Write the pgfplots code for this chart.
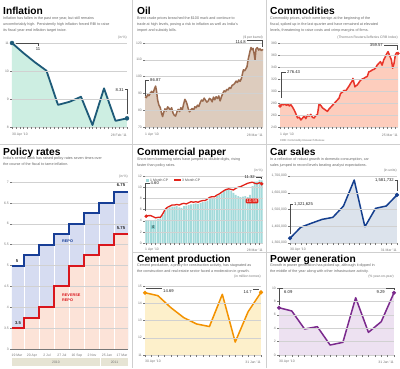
\documentclass[border=0pt]{standalone}
\usepackage{pgfplots}
\usepackage{pgfplotstable}
\pgfplotsset{compat=1.18}
\usepackage{fontspec}
\setmainfont{Liberation Sans}

\definecolor{inflfill}{HTML}{CDEEE2}
\definecolor{inflline}{HTML}{1D5A78}
\definecolor{oilfill}{HTML}{DDCCBE}
\definecolor{oilline}{HTML}{9A6A4E}
\definecolor{comfill}{HTML}{FDCDBD}
\definecolor{comline}{HTML}{E8352B}
\definecolor{polblue}{HTML}{173E96}
\definecolor{polbluefill}{HTML}{D6DCF1}
\definecolor{polred}{HTML}{D9161D}
\definecolor{polredfill}{HTML}{FCE3D8}
\definecolor{cpbar}{HTML}{A3DADA}
\definecolor{cpbox}{HTML}{86CCCC}
\definecolor{cpline}{HTML}{E2231A}
\definecolor{carfill}{HTML}{DCE3EC}
\definecolor{carline}{HTML}{153F8E}
\definecolor{cemfill}{HTML}{FDF0CB}
\definecolor{cemline}{HTML}{F39200}
\definecolor{powfill}{HTML}{EDE1F1}
\definecolor{powline}{HTML}{7B2A8D}
\definecolor{desc}{HTML}{666666}
\definecolor{tickc}{HTML}{777777}
\definecolor{sep}{HTML}{CFCFCF}
\definecolor{band}{HTML}{E6E4D4}

\newcommand\tickf{\fontsize{3.4}{4}\selectfont}
\newcommand\descf{\fontsize{3.7}{6}\selectfont}
\newcommand\titlef{\fontsize{10.2}{12}\selectfont\bfseries}
\newcommand\annf{\fontsize{4.2}{5}\selectfont}

\pgfplotsset{
 panel/.style={
  scale only axis, clip=false, axis on top,
  axis line style={draw=none},
  tick style={draw=tickc, line width=0.3pt},
  major tick length=2pt,
  ytick pos=left, xtick pos=bottom, tick align=outside,
  ymajorgrids, grid style={black!18, line width=0.35pt},
  yticklabel style={font=\tickf, text=tickc, inner sep=1pt},
  xticklabel style={font=\tickf, text=tickc},
  xticklabels={},
  /pgf/number format/assume math mode=true,
  /pgf/number format/1000 sep={},
 },
}

\pgfplotstableread{
x v
0 88.0
4 87.5
8 89.2
12 88.6
16 90.3
20 91.2
24 90.0
28 92.5
32 94.4
35 91.0
38 86
42 83
46 81.5
50 78
53 76.2
56 78.5
60 80.8
64 79.5
68 82.0
72 81.2
76 79.8
80 81.5
84 78.5
88 77.0
92 76.5
96 79.0
100 80.5
104 79.2
108 81.5
112 80.0
116 83.5
120 86.5
123 85.5
126 84.0
130 81.0
134 79.0
138 80.2
142 81.0
146 80.0
150 82.0
154 81.5
158 83.0
162 82.2
166 84.5
170 86.0
174 85.4
178 87.2
182 86.0
186 84.8
190 85.5
194 87.0
198 86.5
202 85.0
206 87.8
210 86.2
214 88.0
218 87.0
222 88.5
226 85.5
230 88.0
234 90.0
238 91.5
242 91.0
246 92.4
250 92.0
254 93.5
258 93.0
262 94.8
266 95.2
270 96.0
274 97.3
278 96.5
282 98.0
286 97.2
290 98.8
293 101.5
296 104.0
300 103.5
304 104.8
307 106.0
310 110.0
313 112.5
316 115.2
319 117.3
322 116.0
325 116.8
328 114.0
331 110.0
334 116.5
338 117.2
342 115.8
346 116.5
350 115.5
355 116.2
}\oildata

\pgfplotstableread{
x v
0 275
5 277.5
10 277
15 278
20 276
25 278.5
28 275
33 277
38 273
43 268
48 262
53 255
58 256.5
63 251.7
68 255
73 258
78 254
83 260
88 258
93 261
98 256
103 255
108 259
113 261
118 279
123 276
128 272
133 270
138 268
143 266
148 270
153 273
158 276
163 279
168 282
173 285
178 288
183 296
188 298
193 301
198 300
203 304
208 308
213 312.8
217 316
220 321
223 314
226 307
230 309
233 310
238 314
243 318
248 320
253 321
258 323
263 324
268 332
273 333
278 335
283 336
288 338
293 343
298 346
303 349
308 343
313 352
317 356
320 360
323 363
326 365.6
330 360
333 356
336 352
340 338
344 346
348 360
352 364
356 362.8
}\comdata

\pgfplotstableread{
i bar line
0 4.0 4.8
1 4.1 4.9
2 4.0 4.9
3 3.9 4.7
4 4.2 4.5
5 4.3 4.6
6 4.4 4.6
7 5.0 5.2
8 5.8 6.0
9 6.2 6.4
10 6.4 6.6
11 6.5 6.8
12 6.5 6.8
13 6.6 6.9
14 6.4 6.8
15 6.3 7.0
16 6.6 7.1
17 6.7 7.0
18 6.8 7.2
19 6.9 7.4
20 7.0 7.3
21 7.1 7.4
22 7.0 7.3
23 7.2 7.5
24 7.3 7.6
25 7.4 7.6
26 7.6 7.9
27 7.9 8.2
28 8.0 8.3
29 8.1 8.3
30 8.4 8.6
31 8.6 8.8
32 8.9 9.1
33 9.3 9.4
34 9.5 9.6
35 9.6 9.7
36 9.4 9.6
37 9.0 9.5
38 8.6 9.8
39 8.4 10.0
40 8.2 10.1
41 8.3 10.3
42 8.4 10.5
43 8.2 10.7
44 8.6 10.8
45 10.2 10.9
46 11.0 10.7
47 11.0 10.6
48 11.32 10.8
49 11.2 10.59
}\cpdata

\begin{document}
\begin{tikzpicture}
\useasboundingbox (0pt,0pt) rectangle (400pt,368pt);
\fill[white] (0pt,0pt) rectangle (400pt,368pt);

% ================= INFLATION =================
\begin{axis}[panel, at={(12pt,241pt)}, anchor=south west, width=115pt, height=84pt,
  xmin=0, xmax=10, ymin=8, ymax=11, ytick={8,9,10,11}, xtick={0,0.3333,...,10}]
\addplot[draw=none, fill=inflfill] coordinates {(0,8) (0,11) (1,10.64) (2,10.31) (3,10.01) (4,8.79) (5,8.9) (6,9.08) (7,8.07) (8,9.38) (9,8.22) (10,8.31) (10,8)};
\addplot[inflline, line width=1.8pt, line join=round] coordinates {(0,11) (1,10.64) (2,10.31) (3,10.01) (4,8.79) (5,8.9) (6,9.08) (7,8.07) (8,9.38) (9,8.22) (10,8.31)};
\addplot[only marks, mark=*, mark size=2pt, inflline] coordinates {(0,11) (10,8.31)};
\draw[tickc, line width=0.4pt] (rel axis cs:0,0) -- (rel axis cs:1,0);
\end{axis}

% ================= POLICY RATES =================
\begin{axis}[panel, axis on top=false, ymajorgrids=false, at={(12pt,19pt)}, anchor=south west, width=116pt, height=167pt,
  xmin=-0.33, xmax=7.4, ymin=3, ymax=7, ytick={3,3.5,4,4.5,5,5.5,6,6.5,7},
  xtick={0,...,7}, xticklabels={19 Mar,20 Apr,2 Jul,27 Jul,16 Sep,2 Nov,25 Jan,17 Mar},
  x tick style={draw=none}, xticklabel style={yshift=0.5pt}]
\addplot[const plot, fill=polbluefill, draw=none] coordinates {(-0.33,3) (-0.33,5) (0.5,5.25) (1.5,5.5) (2.5,5.75) (3.5,6) (4.5,6.25) (5.5,6.5) (6.5,6.75) (7.4,6.75) (7.4,3)};
\addplot[const plot, fill=polredfill, draw=none] coordinates {(-0.33,3) (-0.33,3.5) (0.5,3.75) (1.5,4) (2.5,4.5) (3.5,5) (4.5,5.25) (5.5,5.5) (6.5,5.75) (7.4,5.75) (7.4,3)};
\draw[white, line width=0.7pt] (axis cs:0.5,3) -- (axis cs:0.5,7);
\draw[white, line width=0.7pt] (axis cs:1.5,3) -- (axis cs:1.5,7);
\draw[white, line width=0.7pt] (axis cs:2.5,3) -- (axis cs:2.5,7);
\draw[white, line width=0.7pt] (axis cs:3.5,3) -- (axis cs:3.5,7);
\draw[white, line width=0.7pt] (axis cs:4.5,3) -- (axis cs:4.5,7);
\draw[white, line width=0.7pt] (axis cs:5.5,3) -- (axis cs:5.5,7);
\draw[white, line width=0.7pt] (axis cs:6.5,3) -- (axis cs:6.5,7);
\pgfplotsinvokeforeach{3.5,4,4.5,5,5.5,6,6.5,7}{\draw[black!18, line width=0.35pt] (axis cs:-0.33,#1) -- (axis cs:7.4,#1);}
\addplot[const plot, polblue, line width=2pt] coordinates {(-0.33,5) (0.5,5.25) (1.5,5.5) (2.5,5.75) (3.5,6) (4.5,6.25) (5.5,6.5) (6.5,6.75) (7.4,6.75)};
\addplot[const plot, polred, line width=2pt] coordinates {(-0.33,3.5) (0.5,3.75) (1.5,4) (2.5,4.5) (3.5,5) (4.5,5.25) (5.5,5.5) (6.5,5.75) (7.4,5.75)};
\draw[tickc, line width=0.4pt] (rel axis cs:0,0) -- (rel axis cs:1,0);
\end{axis}

% ================= OIL =================
\begin{axis}[panel, at={(145pt,241pt)}, anchor=south west, width=118pt, height=84pt,
  xmin=0, xmax=355, ymin=70, ymax=120, ytick={70,80,...,120}, xtick={0,12,...,355}]
\addplot[draw=none, fill=oilfill] table[x=x,y=v] {\oildata} -- (axis cs:355,70) -- (axis cs:0,70) -- cycle;
\addplot[oilline, line width=1.5pt, line join=round] table[x=x,y=v] {\oildata};
\draw[tickc, line width=0.4pt] (rel axis cs:0,0) -- (rel axis cs:1,0);
\end{axis}

% ================= COMMODITIES =================
\begin{axis}[panel, at={(280pt,241pt)}, anchor=south west, width=118pt, height=84pt,
  xmin=0, xmax=356, ymin=240, ymax=380, ytick={240,260,...,380}, xtick={0,12,...,356}]
\addplot[draw=none, fill=comfill] table[x=x,y=v] {\comdata} -- (axis cs:356,240) -- (axis cs:0,240) -- cycle;
\addplot[comline, line width=1.5pt, line join=round] table[x=x,y=v] {\comdata};
\addplot[only marks, mark=*, mark size=1.5pt, comline] coordinates {(0,275) (356,362.8)};
\draw[tickc, line width=0.4pt] (rel axis cs:0,0) -- (rel axis cs:1,0);
\end{axis}

% ================= COMMERCIAL PAPER =================
\begin{axis}[panel, at={(145pt,125pt)}, anchor=south west, width=118pt, height=67pt,
  xmin=-0.5, xmax=49.5, ymin=0, ymax=12, ytick={0,2,...,12}, xtick={0,2,...,48}]
\addplot[ybar, bar width=1.75pt, fill=cpbar, draw=none] table[x=i,y=bar] {\cpdata};
\addplot[cpline, line width=1.3pt, line join=round] table[x=i,y=line] {\cpdata};
\addplot[only marks, mark=*, mark size=1.5pt, cpline] coordinates {(0,4.8) (49,10.59)};
\draw[tickc, line width=0.4pt] (rel axis cs:0,0) -- (rel axis cs:1,0);
\end{axis}

% ================= CAR SALES =================
\begin{axis}[panel, at={(290pt,125pt)}, anchor=south west, width=107pt, height=67pt,
  xmin=0, xmax=10, ymin=1300, ymax=1700, ytick={1300,1400,1500,1600,1700},
  yticklabels={{1,300,000},{1,400,000},{1,500,000},{1,600,000},{1,700,000}}, xtick={0,0.5,...,10}]
\addplot[draw=none, fill=carfill] coordinates {(0,1300) (0,1328) (1,1394) (2,1418) (3,1441) (4,1453) (5,1521) (6,1676) (7,1397) (8,1507) (9,1521) (10,1587) (10,1300)};
\addplot[carline, line width=1.5pt, line join=round] coordinates {(0,1328) (1,1394) (2,1418) (3,1441) (4,1453) (5,1521) (6,1676) (7,1397) (8,1507) (9,1521) (10,1587)};
\addplot[only marks, mark=*, mark size=1.9pt, carline] coordinates {(0,1328) (10,1587)};
\draw[tickc, line width=0.4pt] (rel axis cs:0,0) -- (rel axis cs:1,0);
\end{axis}

% ================= CEMENT =================
\begin{axis}[panel, at={(145pt,13pt)}, anchor=south west, width=116pt, height=69pt,
  xmin=0, xmax=9, ymin=11, ymax=15, ytick={11,12,13,14,15}, xtick={0,0.5,...,9}]
\addplot[draw=none, fill=cemfill] coordinates {(0,11) (0,14.61) (1,14.44) (2,13.75) (3,13.17) (4,12.8) (5,12.65) (6,14.52) (7,11.75) (8,13.51) (9,14.63) (9,11)};
\addplot[cemline, line width=1.5pt, line join=round] coordinates {(0,14.61) (1,14.44) (2,13.75) (3,13.17) (4,12.8) (5,12.65) (6,14.52) (7,11.75) (8,13.51) (9,14.63)};
\addplot[only marks, mark=*, mark size=1.9pt, cemline] coordinates {(0,14.61) (9,14.63)};
\draw[tickc, line width=0.4pt] (rel axis cs:0,0) -- (rel axis cs:1,0);
\end{axis}

% ================= POWER =================
\begin{axis}[panel, at={(279pt,13pt)}, anchor=south west, width=115pt, height=67pt,
  xmin=0, xmax=9, ymin=0, ymax=10, ytick={0,2,...,10}, xtick={0,0.5,...,9}]
\addplot[draw=none, fill=powfill] coordinates {(0,0) (0,7.06) (1,6.57) (2,3.88) (3,4.23) (4,1.49) (5,1.89) (6,8.55) (7,3.38) (8,4.97) (9,9.3) (9,0)};
\addplot[powline, line width=1.5pt, line join=round] coordinates {(0,7.06) (1,6.57) (2,3.88) (3,4.23) (4,1.49) (5,1.89) (6,8.55) (7,3.38) (8,4.97) (9,9.3)};
\addplot[only marks, mark=*, mark size=1.9pt, powline] coordinates {(0,7.06) (9,9.3)};
\draw[tickc, line width=0.4pt] (rel axis cs:0,0) -- (rel axis cs:1,0);
\end{axis}

\begin{scope}[x=1pt,y=1pt]
% separators
\draw[sep, line width=0.5pt] (132,0) -- (132,368);
\draw[sep, line width=0.5pt] (266,0) -- (266,368);
\draw[sep, line width=0.5pt] (0,224) -- (400,224);
\draw[sep, line width=0.5pt] (133,116) -- (400,116);

% inflation texts
\node[anchor=base west, font=\titlef, inner sep=0] at (3,353) {Inflation};
\node[anchor=north west, align=left, font=\descf, text=desc, inner sep=0] at (3,351.5) {Inflation has fallen in the past one year, but still remains\\uncomfortably high. Persistently high inflation forced RBI to raise\\its fiscal year-end inflation target twice.};
\node[anchor=east, font=\tickf, text=tickc, inner sep=0] at (127,330) {(in \%)};
\draw[black!70, line width=0.35pt] (16,325) -- (38,325) -- (38,322);
\node[font=\annf, text=black!85, inner sep=0] at (38,318.5) {11};
\draw[black!70, line width=0.35pt] (125,279) -- (127.3,279) -- (127.3,254);
\node[anchor=east, font=\annf, text=black!85, inner sep=0] at (124,277.5) {8.31};
\node[anchor=west, font=\tickf, text=tickc, inner sep=0] at (12,233) {30 Apr '10};
\node[anchor=east, font=\tickf, text=tickc, inner sep=0] at (127,233) {28 Feb '11};

% policy texts
\node[anchor=base west, font=\titlef, inner sep=0] at (3,213) {Policy rates};
\node[anchor=north west, align=left, font=\descf, text=desc, inner sep=0] at (3,211) {India's central bank has raised policy rates seven times over\\the course of the fiscal to tame inflation.};
\node[anchor=east, font=\tickf, text=tickc, inner sep=0] at (128,191) {(in \%)};
\node[font=\annf\bfseries, text=black!85, inner sep=0] at (17,107) {5};
\node[font=\annf\bfseries, text=black!85, inner sep=0] at (18,45) {3.5};
\node[font=\annf\bfseries, text=black!85, inner sep=0] at (121,183) {6.75};
\node[font=\annf\bfseries, text=black!85, inner sep=0] at (121,140) {5.75};
\node[anchor=west, font=\fontsize{3.8}{5}\selectfont\bfseries, text=polblue, inner sep=0] at (62,127) {REPO};
\node[anchor=west, align=left, font=\fontsize{3.8}{5.2}\selectfont\bfseries, text=polred, inner sep=0] at (62,70.5) {REVERSE\\REPO};
\fill[band] (12,2) rectangle (100,10);
\fill[band] (101,2) rectangle (128,10);
\node[font=\tickf, text=tickc, inner sep=0] at (56,6) {2010};
\node[font=\tickf, text=tickc, inner sep=0] at (114.5,6) {2011};

% oil texts
\node[anchor=base west, font=\titlef, inner sep=0] at (137,353) {Oil};
\node[anchor=north west, align=left, font=\descf, text=desc, inner sep=0] at (137,351.5) {Brent crude prices breached the \$100 mark and continue to\\trade at high levels, posing a risk to inflation as well as India's\\import and subsidy bills.};
\node[anchor=east, font=\tickf, text=tickc, inner sep=0] at (263,330) {(\$ per barrel)};
\draw[black!70, line width=0.35pt] (145.5,272) -- (145.5,288) -- (149,288);
\node[anchor=west, font=\annf, text=black!85, inner sep=0] at (150,288) {86.87};
\draw[black!70, line width=0.35pt] (247,328) -- (262.5,328) -- (262.5,321);
\node[anchor=east, font=\annf, text=black!85, inner sep=0] at (246,326) {114.8};
\node[anchor=west, font=\tickf, text=tickc, inner sep=0] at (145,233) {1 Apr '10};
\node[anchor=east, font=\tickf, text=tickc, inner sep=0] at (263,233) {28 Mar '11};

% commodities texts
\node[anchor=base west, font=\titlef, inner sep=0] at (270,353) {Commodities};
\node[anchor=north west, align=left, font=\descf, text=desc, inner sep=0] at (270,351.5) {Commodity prices, which were benign at the beginning of the\\fiscal, spiked up in the last quarter and have remained at elevated\\levels, threatening to raise costs and crimp margins of firms.};
\node[anchor=east, font=\tickf, text=tickc, inner sep=0] at (398,330) {(Thomson Reuters/Jefferies CRB Index)};
\draw[black!70, line width=0.35pt] (281,270) -- (281,296) -- (286,296);
\node[anchor=west, font=\annf, text=black!85, inner sep=0] at (287,296) {276.43};
\draw[black!70, line width=0.35pt] (384,323) -- (397.5,323) -- (397.5,318);
\node[anchor=east, font=\annf, text=black!85, inner sep=0] at (383,323) {359.57};
\node[anchor=west, font=\tickf, text=tickc, inner sep=0] at (280,233) {1 Apr '10};
\node[anchor=east, font=\tickf, text=tickc, inner sep=0] at (398,233) {25 Mar '11};
\node[anchor=west, font=\fontsize{2.8}{3}\selectfont, text=tickc, inner sep=0] at (280,227.5) {CRB: Commodity Research Bureau};

% commercial paper texts
\node[anchor=base west, font=\titlef, inner sep=0] at (137,213) {Commercial paper};
\node[anchor=north west, align=left, font=\descf, text=desc, inner sep=0] at (137,210) {Short-term borrowing rates have jumped to double digits, rising\\faster than policy rates.};
\node[anchor=east, font=\tickf, text=tickc, inner sep=0] at (263,197) {(in \%)};
\fill[cpbar] (146,186.5) rectangle (149,189.5);
\node[anchor=west, font=\tickf, text=black!70, inner sep=0] at (150,188) {1 Month CP};
\draw[cpline, line width=1.3pt] (174,188) -- (181,188);
\node[anchor=west, font=\tickf, text=black!70, inner sep=0] at (182,188) {3 Month CP};
\draw[black!70, line width=0.35pt] (145.5,157) -- (145.5,184.7) -- (149.5,184.7);
\node[anchor=west, font=\annf, text=black!85, inner sep=0] at (150.5,184.7) {4.60};
\node[fill=cpbox, font=\annf, text=black!85, inner sep=1pt] at (153,141) {4};
\draw[black!70, line width=0.35pt] (256,191) -- (260.7,191) -- (260.7,189);
\node[anchor=east, font=\annf, text=black!85, inner sep=0] at (255,191) {11.32};
\node[fill=cpline, rounded corners=1pt, font=\annf, text=white, inner sep=1pt] at (252,167) {10.59};
\node[anchor=west, font=\tickf, text=tickc, inner sep=0] at (145,118) {1 Apr '10};
\node[anchor=east, font=\tickf, text=tickc, inner sep=0] at (263,118) {28 Mar '11};

% car texts
\node[anchor=base west, font=\titlef, inner sep=0] at (270,213) {Car sales};
\node[anchor=north west, align=left, font=\descf, text=desc, inner sep=0] at (270,210) {In a reflection of robust growth in domestic consumption, car\\sales jumped to record levels beating analyst expectations.};
\node[anchor=east, font=\tickf, text=tickc, inner sep=0] at (397,197) {(in units)};
\draw[black!70, line width=0.35pt] (290,134) -- (290,164) -- (293,164);
\node[anchor=west, font=\annf, text=black!85, inner sep=0] at (294,164) {1,321,625};
\draw[black!70, line width=0.35pt] (394.5,188) -- (397,188) -- (397,177);
\node[anchor=east, font=\annf, text=black!85, inner sep=0] at (394,188) {1,581,732};
\node[anchor=west, font=\tickf, text=tickc, inner sep=0] at (290,118) {30 Apr '10};
\node[anchor=east, font=\tickf, text=tickc, inner sep=0] at (397,118) {31 Mar '11};

% cement texts
\node[anchor=base west, font=\titlef, inner sep=0] at (137,106) {Cement production};
\node[anchor=north west, align=left, font=\descf, text=desc, inner sep=0] at (137,104) {Cement production, a proxy for construction activity, has stagnated as\\the construction and real estate sector faced a moderation in growth.};
\node[anchor=east, font=\tickf, text=tickc, inner sep=0] at (261,91) {(in million tonnes)};
\draw[black!70, line width=0.35pt] (146,79.5) -- (162,79.5);
\node[anchor=west, font=\annf, text=black!85, inner sep=0] at (163,77) {14.69};
\draw[black!70, line width=0.35pt] (253,79) -- (259,79);
\node[anchor=east, font=\annf, text=black!85, inner sep=0] at (252,76) {14.7};
\node[anchor=west, font=\tickf, text=tickc, inner sep=0] at (145,6) {30 Apr '10};
\node[anchor=east, font=\tickf, text=tickc, inner sep=0] at (261,6) {31 Jan '11};

% power texts
\node[anchor=base west, font=\titlef, inner sep=0] at (270,106) {Power generation};
\node[anchor=north west, align=left, font=\descf, text=desc, inner sep=0] at (270,104) {Growth in power generation has picked up, although it dipped in\\the middle of the year along with other infrastructure activity.};
\node[anchor=east, font=\tickf, text=tickc, inner sep=0] at (394,91) {(\% year-on-year)};
\draw[black!70, line width=0.35pt] (279.5,63) -- (279.5,80) -- (283,80);
\node[anchor=west, font=\annf, text=black!85, inner sep=0] at (284,76) {6.09};
\draw[black!70, line width=0.35pt] (386,80) -- (394,80) -- (394,78);
\node[anchor=east, font=\annf, text=black!85, inner sep=0] at (385,76) {9.29};
\node[anchor=west, font=\tickf, text=tickc, inner sep=0] at (279,6) {30 Apr '10};
\node[anchor=east, font=\tickf, text=tickc, inner sep=0] at (394,6) {31 Jan '11};
\end{scope}
\end{tikzpicture}
\end{document}
